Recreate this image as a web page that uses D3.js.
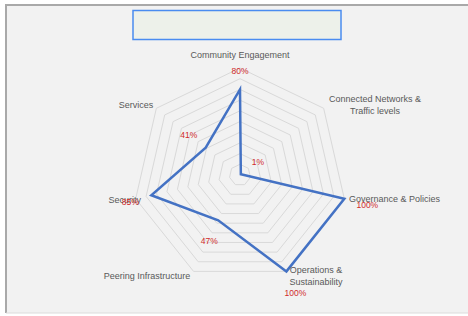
<!DOCTYPE html>
<html>
<head>
<meta charset="utf-8">
<script src="https://cdn.jsdelivr.net/npm/d3@7"></script>
<style>
  body { margin: 0; background: #ffffff; }
  svg { display: block; }
</style>
</head>
<body>
<div id="chart"></div>
<script>
// categories, clockwise from the top
const categories = [
  'Community Engagement',
  'Connected Networks & Traffic levels',
  'Governance & Policies',
  'Operations & Sustainability',
  'Peering Infrastructure',
  'Security',
  'Services'
];
const scores = [0.80, 0.01, 1.00, 1.00, 0.47, 0.85, 0.41];
const ringValues = [0.1, 0.2, 0.3, 0.4, 0.5, 0.6, 0.7, 0.8, 0.9, 1.0];

// label layout (lines, anchor, position relative to the centre)
const axisLabelLayout = [
  { lines: ['Community Engagement'], anchor: 'middle', x: 0, y: -120 },
  { lines: ['Connected Networks &', 'Traffic levels'], anchor: 'middle', x: 135, y: -76 },
  { lines: ['Governance & Policies'], anchor: 'start', x: 109, y: 24 },
  { lines: ['Operations &', 'Sustainability'], anchor: 'middle', x: 76, y: 95 },
  { lines: ['Peering Infrastructure'], anchor: 'middle', x: -93, y: 101 },
  { lines: ['Security'], anchor: 'end', x: -99, y: 25 },
  { lines: ['Services'], anchor: 'middle', x: -104, y: -70 }
];
// data label offsets from each point
const valueLabelOffset = [[0, -18], [17, -12], [23, 6], [9, 22], [-9, 21], [-21, 7], [-17, -13]];

const width = 468, height = 316;
const cx = 240, cy = 175, radius = 107;

const svg = d3.select('#chart').append('svg')
  .attr('width', width)
  .attr('height', height);

// chart area frame
svg.append('rect')
  .attr('x', 6).attr('y', 5)
  .attr('width', width).attr('height', 308)
  .attr('fill', '#f2f2f2');
svg.append('line')
  .attr('x1', 6).attr('x2', width).attr('y1', 5).attr('y2', 5)
  .attr('stroke', '#a9a9a9').attr('stroke-width', 2);
svg.append('line')
  .attr('x1', 6).attr('x2', 6).attr('y1', 4).attr('y2', 313)
  .attr('stroke', '#a9a9a9').attr('stroke-width', 2);
svg.append('line')
  .attr('x1', 6).attr('x2', width).attr('y1', 313).attr('y2', 313)
  .attr('stroke', '#dcdcdc').attr('stroke-width', 1);

// empty title box
svg.append('rect')
  .attr('x', 133).attr('y', 10.5)
  .attr('width', 208).attr('height', 29)
  .attr('fill', '#edf1ea')
  .attr('stroke', '#4a8cf0')
  .attr('stroke-width', 1.5);

const g = svg.append('g').attr('transform', `translate(${cx}, ${cy})`);

const n = categories.length;
const angle = d3.scaleLinear().domain([0, n]).range([0, 2 * Math.PI]);
const r = d3.scaleLinear().domain([0, 1]).range([0, radius]);

const pointAt = (i, v) => [
  r(v) * Math.sin(angle(i)),
  -r(v) * Math.cos(angle(i))
];

// grid rings
const ringLine = d3.line().curve(d3.curveLinearClosed);
g.selectAll('.ring')
  .data(ringValues)
  .enter()
  .append('path')
  .attr('class', 'ring')
  .attr('d', v => ringLine(categories.map((c, i) => pointAt(i, v))))
  .attr('fill', 'none')
  .attr('stroke', '#d9d9d9')
  .attr('stroke-width', 1);

// series line
const radarLine = d3.lineRadial()
  .angle((d, i) => angle(i))
  .radius(d => r(d))
  .curve(d3.curveLinearClosed);

g.append('path')
  .datum(scores)
  .attr('d', radarLine)
  .attr('fill', 'none')
  .attr('stroke', '#4472c4')
  .attr('stroke-width', 2.5)
  .attr('stroke-linejoin', 'miter');

// axis labels
const axisLabels = g.selectAll('.axis-label')
  .data(axisLabelLayout)
  .enter()
  .append('text')
  .attr('class', 'axis-label')
  .attr('text-anchor', d => d.anchor)
  .style('font-family', '"Liberation Sans", Arial, sans-serif')
  .style('font-size', '9px')
  .style('fill', '#595959');

axisLabels.selectAll('tspan')
  .data(d => d.lines.map((t, k) => ({ t, k, d })))
  .enter()
  .append('tspan')
  .attr('x', o => o.d.x)
  .attr('y', o => o.d.y + o.k * 12)
  .attr('dy', '0.35em')
  .text(o => o.t);

// value labels
g.selectAll('.value-label')
  .data(scores)
  .enter()
  .append('text')
  .attr('class', 'value-label')
  .attr('x', (v, i) => pointAt(i, v)[0] + valueLabelOffset[i][0])
  .attr('y', (v, i) => pointAt(i, v)[1] + valueLabelOffset[i][1])
  .attr('dy', '0.35em')
  .attr('text-anchor', 'middle')
  .style('font-family', '"Liberation Sans", Arial, sans-serif')
  .style('font-size', '8.5px')
  .style('fill', '#d02a2a')
  .text(v => d3.format('.0%')(v));
</script>
</body>
</html>
